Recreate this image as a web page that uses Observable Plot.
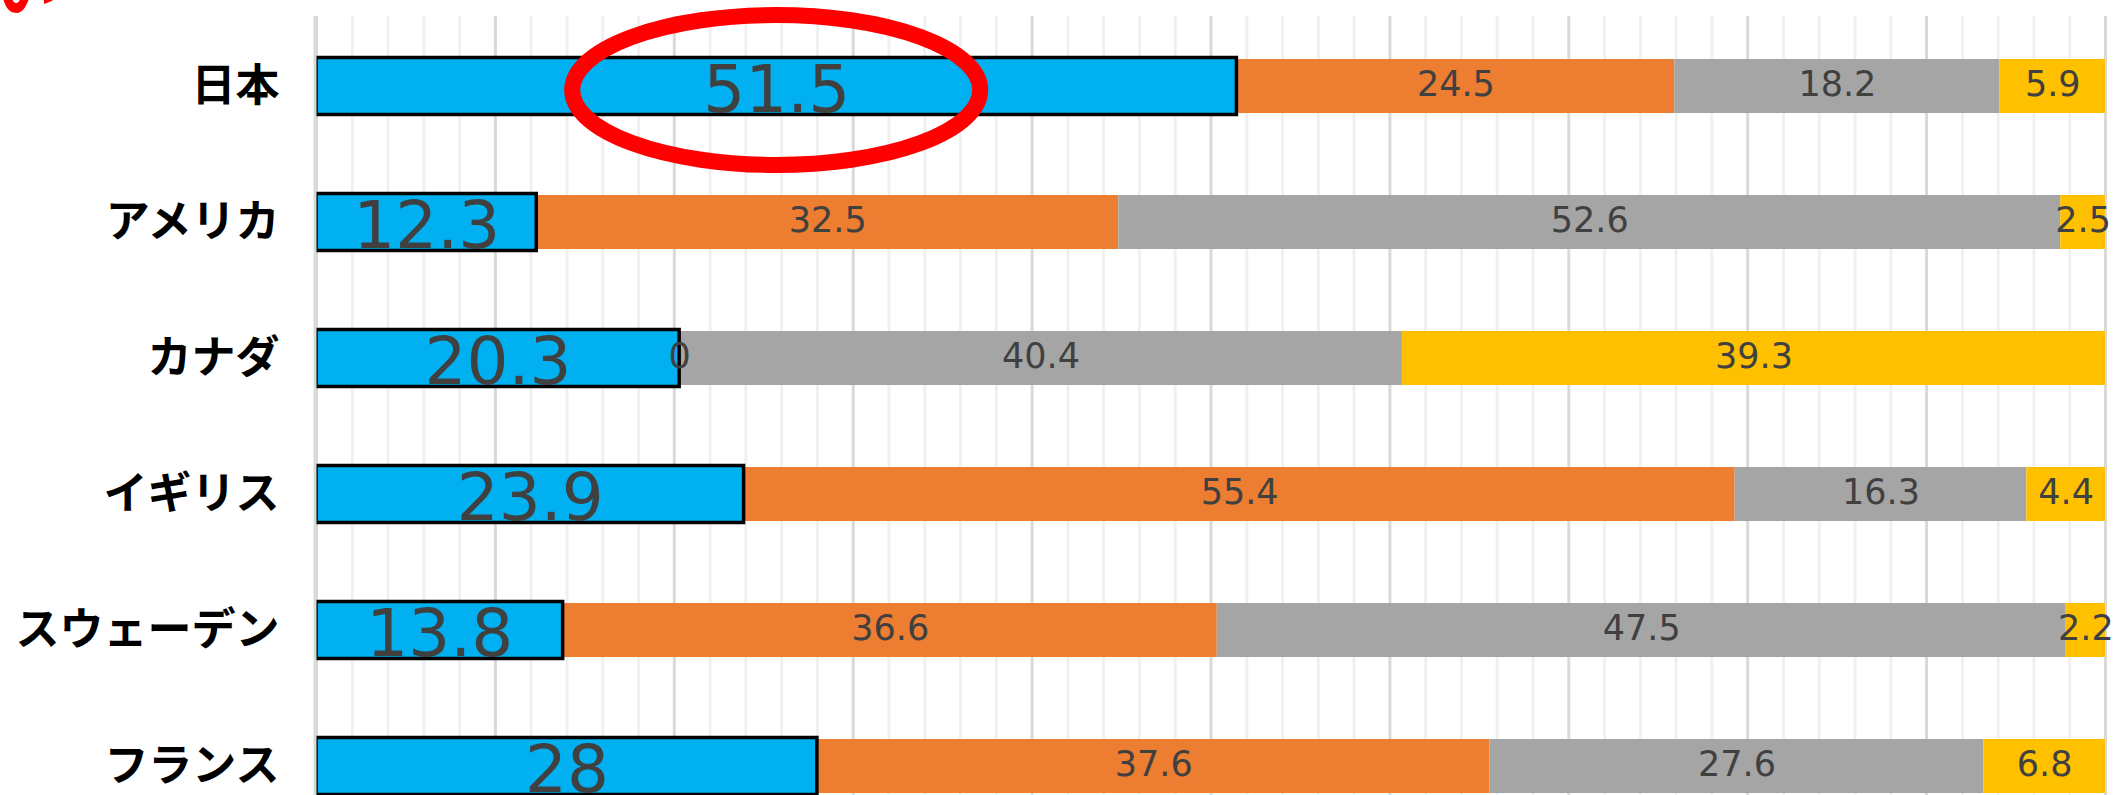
<!DOCTYPE html>
<html><head><meta charset="utf-8">
<script src="https://cdn.jsdelivr.net/npm/d3@7"></script>
<script src="https://cdn.jsdelivr.net/npm/@observablehq/plot@0.6"></script>
<style>
html,body{margin:0;padding:0;background:#fff;overflow:hidden;}
#wrap{position:relative;width:2126px;height:795px;overflow:hidden;}
#red{position:absolute;left:-6px;top:-46px;font-family:"Noto Sans CJK JP",sans-serif;font-weight:bold;font-size:62px;line-height:62px;color:#ff0000;}
</style></head><body>
<div id="wrap"><div id="chart"></div><div id="red">い</div></div>
<script>
// categories (top to bottom)
const countries = ["日本","アメリカ","カナダ","イギリス","スウェーデン","フランス"];
// series (stack order, left to right)
const seriesNames = ["区分1","区分2","区分3","区分4"];
const seriesColors = ["#00B0F0","#ED7D31","#A5A5A5","#FFC000"];
// values (%) per country, same order as countries
const series1 = [51.5, 12.3, 20.3, 23.9, 13.8, 28];
const series2 = [24.5, 32.5, 0, 55.4, 36.6, 37.6];
const series3 = [18.2, 52.6, 40.4, 16.3, 47.5, 27.6];
const series4 = [5.9, 2.5, 39.3, 4.4, 2.2, 6.8];
// gridline positions (%)
const majorTicks = [0,10,20,30,40,50,60,70,80,90,100];
const minorTicks = [2,4,6,8,12,14,16,18,22,24,26,28,32,34,36,38,42,44,46,48,52,54,56,58,62,64,66,68,72,74,76,78,82,84,86,88,92,94,96,98];

const allSeries = [series1, series2, series3, series4];
const rows = [];
allSeries.forEach((vals, i) => vals.forEach((v, j) => rows.push({country: countries[j], series: seriesNames[i], value: v})));
const first = seriesNames[0];
const st = {x: "value", y: "country", z: "series", offset: "normalize"};

const plot = Plot.plot({
  width: 2126, height: 795,
  marginTop: 16, marginBottom: 0, marginLeft: 316, marginRight: 21,
  style: {fontFamily: '"Noto Sans CJK JP", sans-serif', fontSize: "44px", fontWeight: "bold", color: "#000", background: "transparent", overflow: "hidden"},
  x: {domain: [0, 1], axis: null},
  y: {domain: countries, range: [18, 834], paddingInner: 0.603, paddingOuter: 0.3015, tickSize: 0, tickPadding: 37, label: null},
  color: {domain: seriesNames, range: seriesColors},
  opacity: {type: "identity"},
  marks: [
    Plot.ruleX(minorTicks, {x: d => d / 100, stroke: "#f0f0f0", strokeWidth: 3}),
    Plot.ruleX(majorTicks, {x: d => d / 100, stroke: "#d9d9d9", strokeWidth: 3}),
    Plot.barX(rows, Plot.stackX({...st, fill: "series"})),
    Plot.barX(rows, Plot.stackX({...st, fill: "none", stroke: "#000", strokeWidth: 3.5,
      strokeOpacity: d => d.series === first ? 1 : 0, insetTop: -1.5, insetBottom: -1.5})),
    Plot.ruleX([0], {stroke: "#d9d9d9", strokeWidth: 3, dx: -1.5}),
    Plot.text(rows, Plot.stackX({...st, text: d => d.series === first ? String(d.value) : null,
      fill: "#404040", fontFamily: '"DejaVu Sans", sans-serif', fontWeight: "normal", fontSize: 66, dy: 4})),
    Plot.text(rows, Plot.stackX({...st, text: d => d.series !== first ? String(d.value) : null,
      fill: "#404040", fontFamily: '"DejaVu Sans", sans-serif', fontWeight: "normal", fontSize: 35, dy: -1.5}))
  ]
});
document.getElementById("chart").appendChild(plot);

// red annotation ellipse around Japan's first segment, placed through the plot's scales
const xs = plot.scale("x"), ys = plot.scale("y");
const jpTotal = allSeries.reduce((s, a) => s + a[0], 0);
const cx = xs.apply((series1[0] / 2) / jpTotal);
const cy = ys.apply(countries[0]) + ys.bandwidth / 2 + 4;
d3.select(plot).append("ellipse")
  .attr("cx", cx).attr("cy", cy).attr("rx", 204).attr("ry", 75)
  .attr("fill", "none").attr("stroke", "#ff0000").attr("stroke-width", 16);
</script>
</body></html>
